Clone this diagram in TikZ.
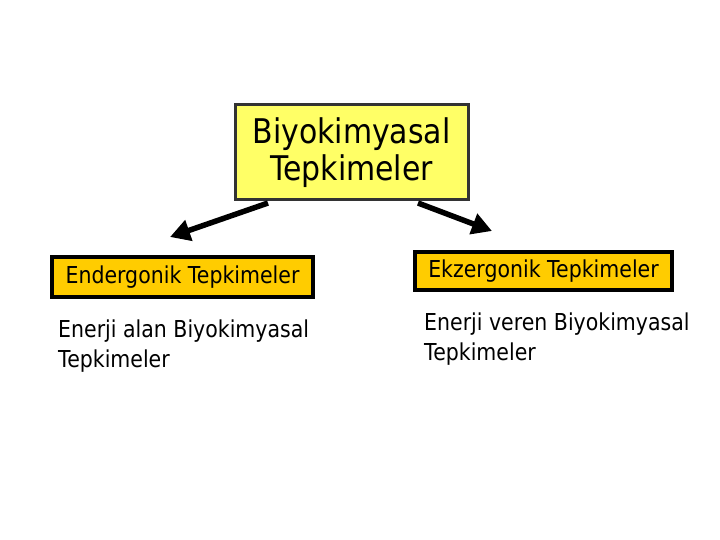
\documentclass[tikz,border=0pt]{standalone}
\usepackage{fontspec}
\setmainfont[FakeStretch=0.88]{DejaVu Sans}
\usetikzlibrary{arrows.meta}
\definecolor{lightyel}{HTML}{FFFF66}
\definecolor{gold}{HTML}{FFCC00}
\definecolor{darkbord}{HTML}{333333}
\tikzset{
  topbox/.style={draw=darkbord, line width=3pt, fill=lightyel, minimum width=233pt, minimum height=95pt, inner sep=0pt, align=center,
    font=\fontsize{34pt}{37pt}\selectfont},
  catbox/.style={draw=black, line width=4pt, fill=gold, inner sep=0pt, font=\fontsize{23.3pt}{28pt}\selectfont},
  desc/.style={anchor=base west, align=left, inner sep=0pt, font=\fontsize{23.3pt}{30pt}\selectfont},
  bigarrow/.style={line width=5.5pt, -{Triangle[length=20pt,width=21pt]}}
}
\begin{document}
\begin{tikzpicture}[x=1pt,y=-1pt]
\useasboundingbox (0,0) rectangle (720,540);
\node[topbox] (top) at (351.5,152.5) {Biyokimyasal\\ Tepkimeler};
\node[catbox, minimum width=261pt, minimum height=40pt] (endo) at (182.5,277) {Endergonik Tepkimeler};
\node[catbox, minimum width=257pt, minimum height=38pt] (exo) at (543.5,271) {Ekzergonik Tepkimeler};
\node[desc] (endodesc) at (58,367) {Enerji alan Biyokimyasal\\Tepkimeler};
\node[desc] (exodesc) at (424,360) {Enerji veren Biyokimyasal\\Tepkimeler};
\coordinate (ltip) at (170,237);
\coordinate (rtip) at (492,231);
\coordinate (lstart) at (268,203);
\coordinate (rstart) at (418,203);
\draw[bigarrow] (lstart) -- (ltip);
\draw[bigarrow] (rstart) -- (rtip);
\end{tikzpicture}
\end{document}
